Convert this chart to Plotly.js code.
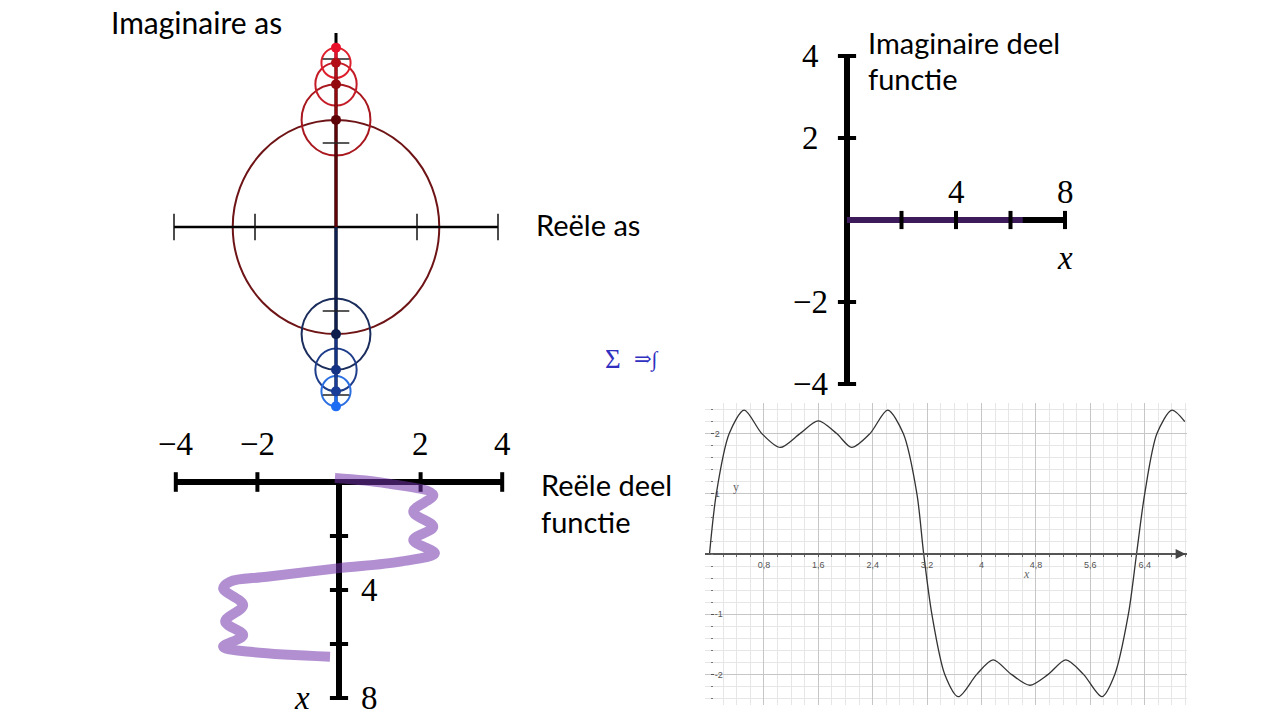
<!DOCTYPE html>
<html>
<head>
<meta charset="utf-8">
<script src="https://cdn.plot.ly/plotly-3.0.1.min.js"></script>
<style>
html,body{margin:0;padding:0;background:#ffffff;}
#chart{width:1280px;height:720px;}
</style>
</head>
<body>
<div id="chart"></div>
<script>
// ================= DATA =================
// Panel 1 - phasor chain in the complex plane
const phasorRadii = [2.55, 0.85, 0.51, 0.36];
const upperCircleColors = ['#6e1416', '#a8181e', '#c41c26', '#de1f2c'];
const upperDotColors = ['#5e0408', '#920a0e', '#b30f18', '#e8112b'];
const lowerCircleColors = ['#1b2d5c', '#1e3d8a', '#2c6fe0'];
const lowerDotColors = ['#0e1f4e', '#153385', '#1a3d98', '#1e6cf2'];
const complexTicks = [-4, -2, 2, 4];
const complexReExtent = [-4, 4];
const complexImExtent = [-4.27, 4.62];

// Panel 2 - imaginary part of the function
const imagAxisX = [0, 8];
const imagAxisY = [-4, 4];
const imagTicksX = [2, 4, 6, 8];
const imagTicksY = [-4, -2, 2, 4];
const imagLabelValsX = [4, 8];
const imagLabelTextX = ['4', '8'];
const imagLabelValsY = [4, 2, -2, -4];
const imagLabelTextY = ['4', '2', '\u22122', '\u22124'];
const imagPartX = [0, 6.45];
const imagPartY = [0, 0];

// Panel 3 - real part of the function (x runs downward)
const realAxisRe = [-4, 4];
const realAxisX = [0, 8];
const realTicksRe = [-4, -2, 2, 4];
const realTicksX = [2, 4, 6, 8];
const realLabelValsRe = [-4, -2, 2, 4];
const realLabelTextRe = ['\u22124', '\u22122', '2', '4'];
const realLabelValsX = [4, 8];
const realLabelTextX = ['4', '8'];
const realPartRe = [-0.10, 1.17, 2.31, 1.82, 2.31, 1.82, 2.35, 1.50, -0.04, -1.77, -2.67, -2.84, -2.35, -2.79, -2.35, -2.84, -2.18, -0.22];
const realPartX  = [-0.15, 0.05, 0.48, 1.10, 1.66, 2.15, 2.64, 2.95, 3.20, 3.51, 3.69, 3.94, 4.56, 5.17, 5.67, 6.10, 6.29, 6.47];

// Panel 4 - partial Fourier sum graph
const sumX = [0, 0.10, 0.29, 0.51, 0.77, 1.04, 1.33, 1.60, 1.87, 2.09, 2.36, 2.62, 2.85, 3.05, 3.15, 3.27, 3.46, 3.66, 3.93, 4.17, 4.44, 4.71, 4.98, 5.24, 5.50, 5.77, 5.96, 6.16, 6.28, 6.40, 6.58, 6.80, 6.99];
const sumY = [0, 1, 2, 2.39, 2, 1.77, 2, 2.21, 2, 1.77, 2, 2.39, 2, 1, 0, -1, -2, -2.37, -2, -1.76, -2, -2.18, -2, -1.76, -2, -2.37, -2, -1, 0, 1, 2, 2.39, 2.2];
const gridTickX = [0.8, 1.6, 2.4, 3.2, 4, 4.8, 5.6, 6.4];
const gridTickXText = ['0,8', '1,6', '2,4', '3,2', '4', '4,8', '5,6', '6,4'];
const gridTickY = [-2, -1, 1, 2];
const gridTickYText = ['-2', '-1', '1', '2'];

// ================= LAYOUT HELPERS =================
const W = 1280, H = 720;
function xAxisPx(p0, p1, origin, s) {
  return {domain: [p0 / W, p1 / W], range: [(p0 - origin) / s, (p1 - origin) / s]};
}
function yAxisPx(top, bottom, origin, s, down) {
  if (down) return {domain: [1 - bottom / H, 1 - top / H], range: [(bottom - origin) / s, (top - origin) / s]};
  return {domain: [1 - bottom / H, 1 - top / H], range: [(origin - bottom) / s, (origin - top) / s]};
}
const hidden = {visible: false, fixedrange: true, showgrid: false, zeroline: false};

const SANS = 'Lato, "Open Sans", sans-serif';
const SERIF = '"Liberation Serif", "DejaVu Serif", serif';

const data = [];
const shapes = [];
const annotations = [];

function line(xs, ys, ax, color, width, extra) {
  data.push(Object.assign({type: 'scatter', mode: 'lines', x: xs, y: ys, xaxis: ax[0], yaxis: ax[1],
    line: {color: color, width: width}, hoverinfo: 'skip', cliponaxis: false}, extra || {}));
}
function ticks(xs, ys, ax, symbol, size, width, color) {
  data.push({type: 'scatter', mode: 'markers', x: xs, y: ys, xaxis: ax[0], yaxis: ax[1],
    marker: {symbol: symbol, size: size, color: color, line: {width: width, color: color}},
    hoverinfo: 'skip', cliponaxis: false});
}
function label(text, x, y, xref, yref, font, opts) {
  annotations.push(Object.assign({text: text, x: x, y: y, xref: xref, yref: yref, showarrow: false,
    font: font, xanchor: 'center', yanchor: 'middle'}, opts || {}));
}
function paperLabel(text, px, py, font, xanchor) {
  label(text, px / W, 1 - py / H, 'paper', 'paper', font, {xanchor: xanchor || 'center'});
}

// ================= PANEL 1 =================
const P1 = ['x', 'y'];
let cum = 0;
const upperCenters = [], upperDots = [];
phasorRadii.forEach(r => { upperCenters.push(cum); cum += r; upperDots.push(cum); });
const lowerCenters = upperCenters.map(v => -v);
const lowerDots = upperDots.map(v => -v);

phasorRadii.forEach((r, i) => {
  shapes.push({type: 'circle', xref: 'x', yref: 'y', layer: 'below',
    x0: -r, x1: r, y0: upperCenters[i] - r, y1: upperCenters[i] + r,
    line: {color: upperCircleColors[i], width: 2}});
});
phasorRadii.slice(1).forEach((r, j) => {
  const c = lowerCenters[j + 1];
  shapes.push({type: 'circle', xref: 'x', yref: 'y', layer: 'below',
    x0: -r, x1: r, y0: c - r, y1: c + r,
    line: {color: lowerCircleColors[j], width: 2}});
});
line(complexReExtent, [0, 0], P1, '#000000', 2.6);
line([0, 0], complexImExtent, P1, '#000000', 3);
upperCenters.forEach((c, i) => line([0, 0], [c, upperDots[i]], P1, upperDotColors[i], 3));
lowerCenters.forEach((c, i) => line([0, 0], [c, lowerDots[i]], P1, lowerDotColors[i], 3));
ticks(complexTicks, complexTicks.map(() => 0), P1, 'line-ns', 19, 1.5, '#111111');
ticks(complexTicks.map(() => 0), complexTicks, P1, 'line-ew', 19, 1.5, '#222222');
data.push({type: 'scatter', mode: 'markers', x: upperDots.map(() => 0), y: upperDots, xaxis: 'x', yaxis: 'y',
  marker: {size: 10, color: upperDotColors}, hoverinfo: 'skip', cliponaxis: false});
data.push({type: 'scatter', mode: 'markers', x: lowerDots.map(() => 0), y: lowerDots, xaxis: 'x', yaxis: 'y',
  marker: {size: 10, color: lowerDotColors}, hoverinfo: 'skip', cliponaxis: false});

paperLabel('Imaginaire as', 196, 22, {family: SANS, size: 30, color: '#000'});
paperLabel('Re\u00eble as', 534, 224, {family: SANS, size: 29, color: '#000'}, 'left');

// ================= PANEL 2 =================
const P2 = ['x2', 'y2'];
line([0, 0], imagAxisY, P2, '#000000', 6);
line(imagAxisX, [0, 0], P2, '#000000', 6);
line(imagPartX, imagPartY, P2, '#3d1b5b', 6);
ticks(imagTicksX, imagTicksX.map(() => 0), P2, 'line-ns', 13, 4, '#000000');
ticks(imagTicksY.map(() => 0), imagTicksY, P2, 'line-ew', 13, 4, '#000000');
const serifBig = {family: SERIF, size: 33, color: '#000'};
imagLabelValsY.forEach((v, i) => label(imagLabelTextY[i], 0, v, 'x2', 'y2', serifBig, {xshift: -37}));
imagLabelValsX.forEach((v, i) => label(imagLabelTextX[i], v, 0, 'x2', 'y2', serifBig, {yshift: 28}));
label('<i>x</i>', imagAxisX[1], 0, 'x2', 'y2', serifBig, {yshift: -38});
paperLabel('Imaginaire deel', 866, 42, {family: SANS, size: 29, color: '#000'}, 'left');
paperLabel('functie', 866, 78, {family: SANS, size: 29, color: '#000'}, 'left');

// ================= PANEL 3 =================
const P3 = ['x3', 'y3'];
line(realAxisRe, [0, 0], P3, '#000000', 6);
line([0, 0], realAxisX, P3, '#000000', 6);
ticks(realTicksRe, realTicksRe.map(() => 0), P3, 'line-ns', 14, 4, '#000000');
ticks(realTicksX.map(() => 0), realTicksX, P3, 'line-ew', 13, 4, '#000000');
line(realPartRe, realPartX, P3, 'rgba(113,51,171,0.55)', 10, {line: {color: 'rgba(113,51,171,0.55)', width: 10, shape: 'spline', smoothing: 1}});
realLabelValsRe.forEach((v, i) => label(realLabelTextRe[i], v, 0, 'x3', 'y3', serifBig, {yshift: 38}));
realLabelValsX.forEach((v, i) => label(realLabelTextX[i], 0, v, 'x3', 'y3', serifBig, {xshift: 30}));
label('<i>x</i>', 0, realAxisX[1], 'x3', 'y3', serifBig, {xshift: -37});
paperLabel('Re\u00eble deel', 539, 484, {family: SANS, size: 29, color: '#000'}, 'left');
paperLabel('functie', 539, 521, {family: SANS, size: 29, color: '#000'}, 'left');

// Sigma => integral
paperLabel('\u03a3', 613, 359, {family: SERIF, size: 27, color: '#2f2fc0'});
paperLabel('\u21d2\u222b', 646, 359, {family: SERIF, size: 21, color: '#2f2fc0'});

// ================= PANEL 4 =================
data.push({type: 'scatter', mode: 'lines', x: sumX, y: sumY, xaxis: 'x4', yaxis: 'y4',
  line: {color: '#333333', width: 1.3, shape: 'spline', smoothing: 0.8}, hoverinfo: 'skip'});
const ax4x = xAxisPx(705, 1187, 709.5, 68);
const ax4y = yAxisPx(403, 705, 554, 60.2, false);
label('y', 0.39, 1.12, 'x4', 'y4', {family: SERIF, size: 12, color: '#666'});
label('<i>x</i>', 4.66, -0.33, 'x4', 'y4', {family: SERIF, size: 12, color: '#666'});
annotations.push({x: ax4x.range[1] - 0.02, y: 0, xref: 'x4', yref: 'y4', text: '', showarrow: true,
  ax: -9, ay: 0, arrowhead: 2, arrowsize: 1, arrowwidth: 2, arrowcolor: '#444'});

const layout = {
  width: W, height: H,
  margin: {l: 0, r: 0, t: 0, b: 0, pad: 0},
  paper_bgcolor: '#ffffff', plot_bgcolor: 'rgba(0,0,0,0)',
  showlegend: false,
  xaxis:  Object.assign({}, hidden, xAxisPx(130, 540, 336, 40.5), {anchor: 'y'}),
  yaxis:  Object.assign({}, hidden, yAxisPx(15, 430, 227, 42, false), {anchor: 'x'}),
  xaxis2: Object.assign({}, hidden, xAxisPx(780, 1110, 847, 27.25), {anchor: 'y2'}),
  yaxis2: Object.assign({}, hidden, yAxisPx(30, 400, 220, 41, false), {anchor: 'x2'}),
  xaxis3: Object.assign({}, hidden, xAxisPx(140, 540, 339, 40.8), {anchor: 'y3'}),
  yaxis3: Object.assign({}, hidden, yAxisPx(455, 715, 482, 27, true), {anchor: 'x3'}),
  xaxis4: Object.assign({}, ax4x, {
    anchor: 'free', position: 1 - 554 / H, fixedrange: true,
    showline: true, linecolor: '#555555', linewidth: 2,
    tickmode: 'array', tickvals: gridTickX, ticktext: gridTickXText,
    ticks: 'outside', ticklen: 2, tickcolor: '#555555', tickwidth: 1,
    tickfont: {family: 'Liberation Sans, Arial, sans-serif', size: 9, color: '#555555'},
    showgrid: true, gridcolor: '#c6c6c6', gridwidth: 1, zeroline: false,
    minor: {dtick: 0.2, tick0: 0, showgrid: true, gridcolor: '#e6e6e6', gridwidth: 1,
            ticks: 'outside', ticklen: 2, tickcolor: '#666666'}
  }),
  yaxis4: Object.assign({}, ax4y, {
    anchor: 'free', position: 709.5 / W, fixedrange: true,
    showline: false,
    tickmode: 'array', tickvals: gridTickY, ticktext: gridTickYText,
    ticks: 'inside', ticklen: 3, tickcolor: '#555555', ticklabelposition: 'inside',
    tickfont: {family: 'Liberation Sans, Arial, sans-serif', size: 9, color: '#555555'},
    showgrid: true, gridcolor: '#c6c6c6', gridwidth: 1, zeroline: false,
    minor: {dtick: 0.2, tick0: 0, showgrid: true, gridcolor: '#e6e6e6', gridwidth: 1,
            ticks: 'inside', ticklen: 2, tickcolor: '#777777'}
  }),
  shapes: shapes,
  annotations: annotations
};

Plotly.newPlot('chart', data, layout, {staticPlot: true, displayModeBar: false});
</script>
</body>
</html>
